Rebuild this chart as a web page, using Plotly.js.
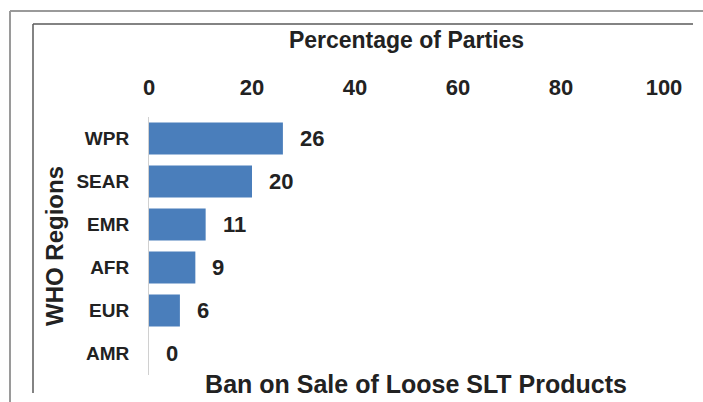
<!DOCTYPE html>
<html>
<head>
<meta charset="utf-8">
<script src="https://cdn.plot.ly/plotly-3.0.1.min.js"></script>
<style>
html,body{margin:0;padding:0;background:#fff;}
#chart{width:703px;height:402px;}
</style>
</head>
<body>
<div id="chart"></div>
<script>
// Data
var regions = ["WPR", "SEAR", "EMR", "AFR", "EUR", "AMR"];
var percentages = [26, 20, 11, 9, 6, 0];
var xTicks = [0, 20, 40, 60, 80, 100];
var xTitle = "Percentage of Parties";
var yTitle = "WHO Regions";
var chartTitle = "Ban on Sale of Loose SLT Products";

var FONT = '"Liberation Sans", Arial, Helvetica, sans-serif';
var TXT = '#222222';

var trace = {
  type: 'bar',
  orientation: 'h',
  x: percentages,
  y: regions,
  width: 0.74,
  marker: {color: '#4a7ebb', line: {width: 0}},
  hoverinfo: 'x+y'
};

var annotations = regions.map(function(r, i){
  return {
    x: percentages[i], y: r, xref: 'x', yref: 'y',
    text: '<b>' + percentages[i] + '</b>',
    showarrow: false, xanchor: 'left', yanchor: 'middle', xshift: 15,
    font: {family: FONT, size: 22, color: TXT}
  };
});

// decorative frame lines (paper coords; plot area spans x 149..664, y 117..375 px)
function px(x){ return (x - 149) / 515; }
function py(y){ return (375 - y) / 258; }
var shapes = [
  {type:'line', xref:'paper', yref:'paper', x0:px(10), x1:px(10), y0:py(11), y1:py(402), line:{color:'#9a9a9a', width:2}},
  {type:'line', xref:'paper', yref:'paper', x0:px(10), x1:px(703), y0:py(11), y1:py(11), line:{color:'#9a9a9a', width:2}},
  {type:'line', xref:'paper', yref:'paper', x0:px(33), x1:px(33), y0:py(24), y1:py(393), line:{color:'#5a5a5a', width:1.5}},
  {type:'line', xref:'paper', yref:'paper', x0:px(33), x1:px(693), y0:py(24), y1:py(24), line:{color:'#5a5a5a', width:1.5}}
];

var layout = {
  width: 703, height: 402,
  margin: {l: 149, r: 39, t: 117, b: 27},
  paper_bgcolor: '#ffffff', plot_bgcolor: '#ffffff',
  showlegend: false,
  title: {
    text: '<b>' + chartTitle + '</b>',
    xref: 'container', yref: 'container',
    x: 416/703, xanchor: 'center', y: 1 - 384/402, yanchor: 'middle',
    font: {family: FONT, size: 25, color: TXT}
  },
  xaxis: {
    side: 'top', range: [0, 100], tickvals: xTicks,
    ticktext: xTicks.map(function(v){return '<b>'+v+'</b>';}),
    showgrid: false, zeroline: false, showline: false, ticks: '',
    ticklabelstandoff: 17,
    tickfont: {family: FONT, size: 22, color: TXT},
    title: {text: '<b>' + xTitle + '</b>', standoff: 19, font: {family: FONT, size: 23, color: TXT}},
    fixedrange: true
  },
  yaxis: {
    type: 'category', categoryorder: 'array', categoryarray: regions,
    autorange: false, range: [5.5, -0.5],
    ticktext: regions.map(function(r){return '<b>'+r+'</b>';}), tickvals: regions,
    showgrid: false, zeroline: false, showline: true, linecolor: '#d0d0d0', linewidth: 1,
    ticks: '', ticklabelstandoff: 15,
    tickfont: {family: FONT, size: 19, color: TXT},
    title: {text: '<b>' + yTitle + '</b>', standoff: 6, font: {family: FONT, size: 24, color: TXT}},
    fixedrange: true
  },
  annotations: annotations,
  shapes: shapes
};

Plotly.newPlot('chart', [trace], layout, {displayModeBar: false, staticPlot: true});
</script>
</body>
</html>
